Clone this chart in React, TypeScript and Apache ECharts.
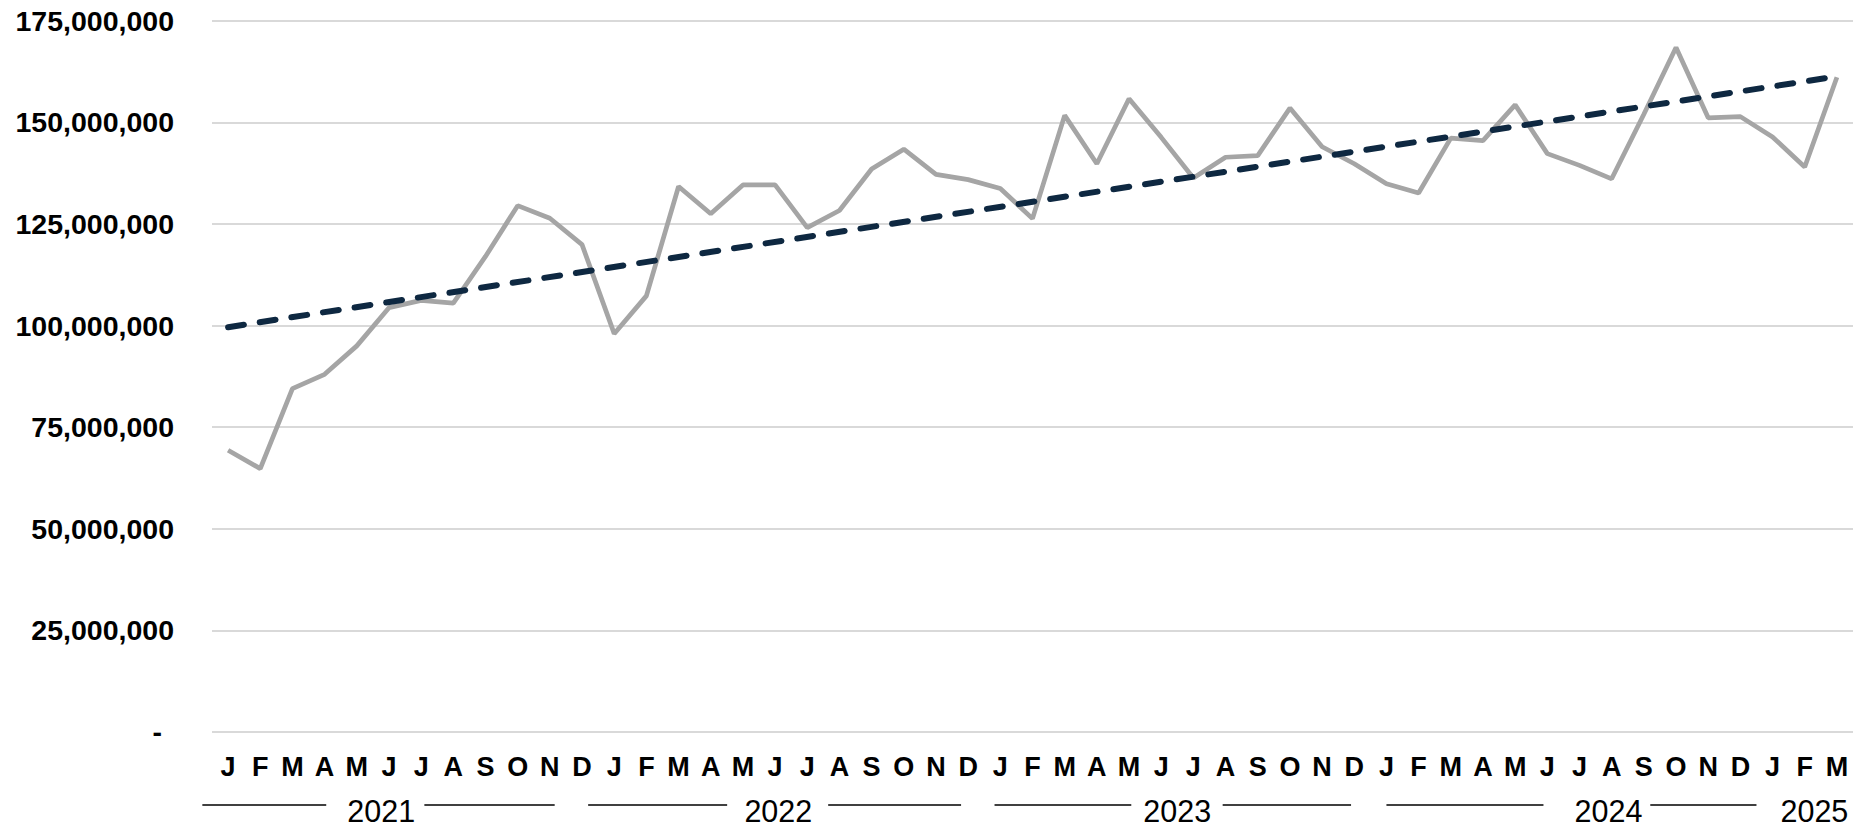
import React, { useEffect, useRef } from "react";
import * as echarts from "echarts";

// ---- Data ----
const monthLabels = [
  "J", "F", "M", "A", "M", "J", "J", "A", "S", "O", "N", "D",
  "J", "F", "M", "A", "M", "J", "J", "A", "S", "O", "N", "D",
  "J", "F", "M", "A", "M", "J", "J", "A", "S", "O", "N", "D",
  "J", "F", "M", "A", "M", "J", "J", "A", "S", "O", "N", "D",
  "J", "F", "M",
];

const values2021 = [69300000, 64800000, 84500000, 88000000, 95000000, 104400000, 106200000, 105500000, 117000000, 129500000, 126400000, 119900000];
const values2022 = [98000000, 107300000, 134200000, 127500000, 134600000, 134600000, 124100000, 128300000, 138500000, 143400000, 137200000, 135900000];
const values2023 = [133700000, 126300000, 151700000, 139800000, 155800000, 146300000, 136300000, 141400000, 141800000, 153500000, 144000000, 139800000];
const values2024 = [134900000, 132600000, 146100000, 145500000, 154300000, 142300000, 139400000, 136100000, 152000000, 168400000, 151100000, 151400000];
const values2025 = [146400000, 139000000, 161100000];

const trendStart = 99600000;
const trendEnd = 161300000;

const yearLabels = ["2021", "2022", "2023", "2024", "2025"];

// ---- Layout (category-index positions for year labels and bracket lines) ----
const yearCenters = [4.76, 17.1, 29.5, 42.9, 49.3];
const yearLines: number[][][] = [
  [[-0.8, 3.05], [6.1, 10.15]],
  [[11.19, 15.51], [18.65, 22.78]],
  [[23.82, 28.07], [30.91, 34.9]],
  [[36.0, 40.88], [44.2, 47.5]],
  [],
];

const FONT = '"Liberation Sans", Arial, sans-serif';

export default function App() {
  const ref = useRef<HTMLDivElement>(null);

  useEffect(() => {
    document.body.style.margin = "0";
    if (!ref.current) return;
    const chart = echarts.init(ref.current, null, { renderer: "svg" });

    const sales = [...values2021, ...values2022, ...values2023, ...values2024, ...values2025];
    const trend: (number | null)[] = sales.map(() => null);
    trend[0] = trendStart;
    trend[trend.length - 1] = trendEnd;

    chart.setOption({
      animation: false,
      backgroundColor: "#ffffff",
      grid: { left: 212, right: 4, top: 20.7, bottom: 97 },
      xAxis: {
        type: "category",
        data: monthLabels,
        boundaryGap: true,
        axisLine: { show: false },
        axisTick: { show: false },
        axisLabel: {
          interval: 0,
          margin: 21,
          color: "#000",
          fontFamily: FONT,
          fontWeight: "bold",
          fontSize: 27,
        },
        splitLine: { show: false },
      },
      yAxis: {
        type: "value",
        min: 0,
        max: 175000000,
        interval: 25000000,
        axisLine: { show: false },
        axisTick: { show: false },
        splitLine: { lineStyle: { color: "#D9D9D9", width: 2 } },
        axisLabel: {
          margin: 38,
          color: "#000",
          fontFamily: FONT,
          fontWeight: "bold",
          fontSize: 28.5,
          formatter: (v: number) => (v === 0 ? "{z|-}" : v.toLocaleString("en-US")),
          rich: {
            z: {
              color: "#000",
              fontFamily: FONT,
              fontWeight: "bold",
              fontSize: 28.5,
              padding: [0, 12, 0, 0],
            },
          },
        },
      },
      series: [
        {
          type: "line",
          data: sales,
          symbol: "none",
          lineStyle: { color: "#A5A5A5", width: 4.7 },
          itemStyle: { color: "#A5A5A5" },
          z: 2,
        },
        {
          type: "line",
          data: trend,
          connectNulls: true,
          symbol: "none",
          lineStyle: { color: "#0E2841", width: 6, type: [16, 16], cap: "round" },
          itemStyle: { color: "#0E2841" },
          z: 3,
        },
      ],
    });

    const p0 = chart.convertToPixel({ xAxisIndex: 0 }, 0) as number;
    const p1 = chart.convertToPixel({ xAxisIndex: 0 }, 1) as number;
    const step = p1 - p0;
    const toX = (i: number) => p0 + i * step;
    const yearY = 811;
    const lineY = 805;

    const graphic: any[] = [];
    yearLabels.forEach((label, k) => {
      graphic.push({
        type: "text",
        x: toX(yearCenters[k]),
        y: yearY,
        style: {
          text: label,
          align: "center",
          verticalAlign: "middle",
          fontSize: 30.5,
          fontFamily: FONT,
          fill: "#000",
        },
      });
      yearLines[k].forEach((seg) => {
        graphic.push({
          type: "line",
          shape: { x1: toX(seg[0]), y1: lineY, x2: toX(seg[1]), y2: lineY },
          style: { stroke: "#000", lineWidth: 1.7 },
        });
      });
    });
    chart.setOption({ graphic });

    return () => chart.dispose();
  }, []);

  return <div ref={ref} style={{ width: 1857, height: 829 }} />;
}
